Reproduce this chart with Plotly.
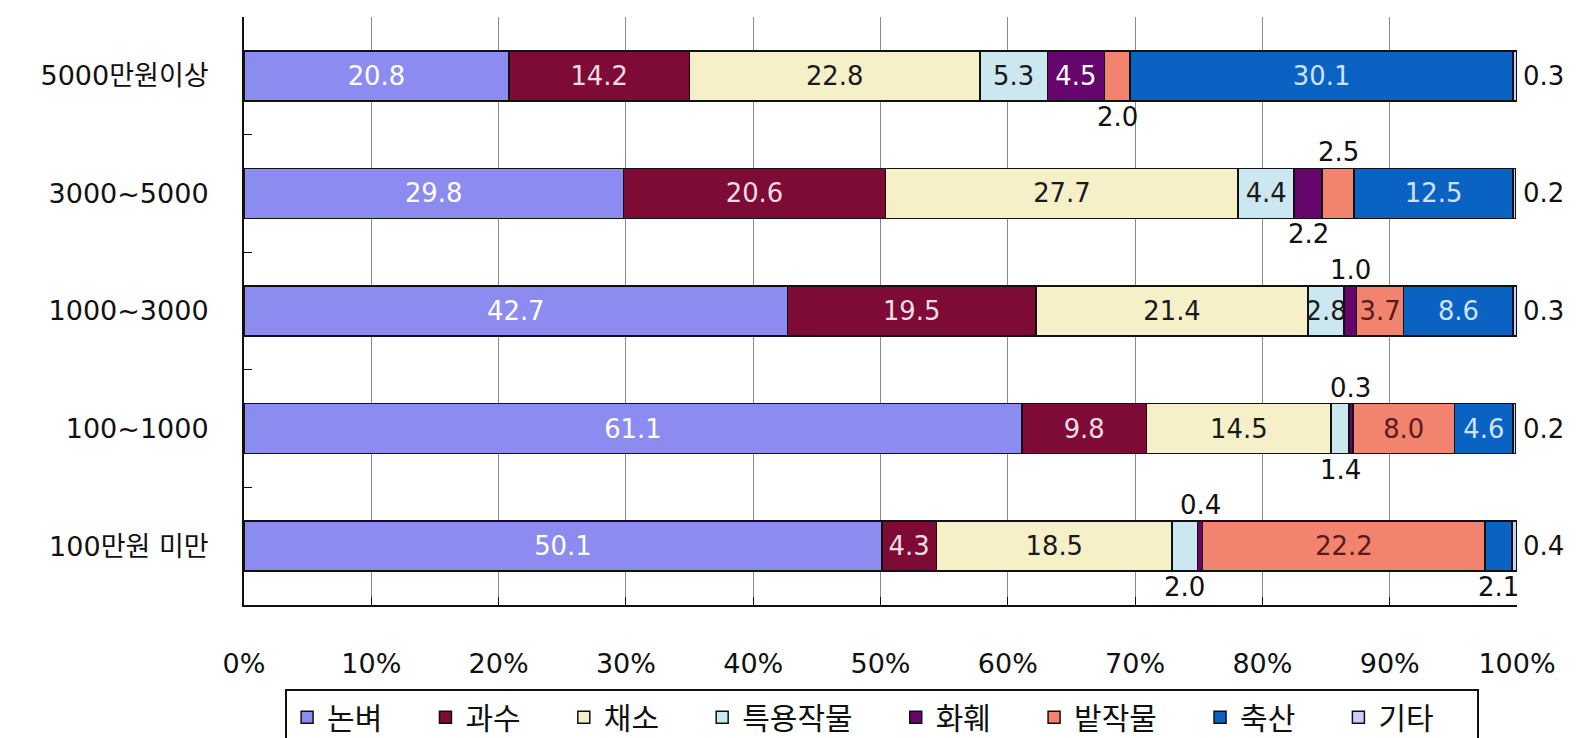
import plotly.graph_objects as go

categories = ["5000만원이상", "3000~5000", "1000~3000", "100~1000", "100만원 미만"]
series_names = ["논벼", "과수", "채소", "특용작물", "화훼", "밭작물", "축산", "기타"]

rice       = [20.8, 29.8, 42.7, 61.1, 50.1]
fruit      = [14.2, 20.6, 19.5, 9.8, 4.3]
vegetable  = [22.8, 27.7, 21.4, 14.5, 18.5]
special    = [5.3, 4.4, 2.8, 1.4, 2.0]
flower     = [4.5, 2.2, 1.0, 0.3, 0.4]
field      = [2.0, 2.5, 3.7, 8.0, 22.2]
livestock  = [30.1, 12.5, 8.6, 4.6, 2.1]
other      = [0.3, 0.2, 0.3, 0.2, 0.4]

values = [rice, fruit, vegetable, special, flower, field, livestock, other]

x_ticks = [0, 10, 20, 30, 40, 50, 60, 70, 80, 90, 100]
x_ticktext = ["0%", "10%", "20%", "30%", "40%", "50%", "60%", "70%", "80%", "90%", "100%"]

colors = ["#8C8CF0", "#7D0B36", "#F5F0C8", "#CBE8F0", "#66056B", "#F2836E", "#0A62C2", "#CCCCFF"]
text_colors = ["#FFFFFF", "#F4DCE4", "#1A1A1A", "#1A1A1A", "#FFFFFF", "#5A1A1A", "#CFE3FF", "#1A1A1A"]

# labels drawn outside the bar: (category index, series index, placement)
outside = [
    (0, 5, "below"), (0, 7, "right"),
    (1, 4, "below"), (1, 5, "above"), (1, 7, "right"),
    (2, 4, "above"), (2, 7, "right"),
    (3, 3, "below"), (3, 4, "above"), (3, 7, "right"),
    (4, 3, "below"), (4, 4, "above"), (4, 6, "below"), (4, 7, "right"),
]
outside_set = {(r, s) for r, s, _ in outside}

FONT = "DejaVu Sans, Noto Sans CJK KR, sans-serif"
LFONT = 26

fig = go.Figure()
for s, (name, vals) in enumerate(zip(series_names, values)):
    texts = ["" if (r, s) in outside_set else f"{v:.1f}" for r, v in enumerate(vals)]
    fig.add_trace(go.Bar(
        name=name + "\u00a0" * 4, y=categories, x=vals, orientation="h",
        marker=dict(color=colors[s], line=dict(color="#111111", width=1.5)),
        text=texts, textposition="inside", insidetextanchor="middle", textangle=0,
        textfont=dict(color=text_colors[s], size=LFONT, family=FONT),
        cliponaxis=False,
    ))

annotations = []
for r, s, pos in outside:
    v = values[s][r]
    start = sum(values[k][r] for k in range(s))
    if pos == "right":
        annotations.append(dict(x=100, y=categories[r], xref="x", yref="y", text=f"{v:.1f}",
                                showarrow=False, xanchor="left", xshift=4,
                                font=dict(size=LFONT, color="#111111", family=FONT)))
    else:
        annotations.append(dict(x=start + v / 2, y=categories[r], xref="x", yref="y", text=f"{v:.1f}",
                                showarrow=False, xanchor="center",
                                yshift=(41 if pos == "above" else -41),
                                font=dict(size=LFONT, color="#111111", family=FONT)))

fig.update_layout(
    barmode="stack", bargap=0.575,
    width=1578, height=738,
    margin=dict(l=244, r=61, t=17, b=133, autoexpand=False),
    paper_bgcolor="white", plot_bgcolor="white",
    font=dict(family=FONT, size=26, color="#111111"),
    uniformtext=dict(minsize=22, mode="show"),
    annotations=annotations,
    legend=dict(orientation="h", xref="container", yref="container",
                x=0.559, xanchor="center", y=0.066, yanchor="top",
                bgcolor="white", bordercolor="#111111", borderwidth=2,
                font=dict(size=30, family=FONT), traceorder="normal"),
    showlegend=True,
)
fig.update_xaxes(range=[0, 100], tickvals=x_ticks, ticktext=x_ticktext,
                 showgrid=True, gridcolor="#8A8A8A", gridwidth=1,
                 showline=True, linecolor="#111111", linewidth=2,
                 ticks="inside", ticklen=8, tickcolor="#111111", automargin=False,
                 ticklabelstandoff=34, tickfont=dict(size=27), zeroline=False)
fig.update_yaxes(autorange="reversed", showline=True, linecolor="#111111", linewidth=2,
                 ticks="inside", tickson="boundaries", ticklen=8, tickcolor="#111111",
                 automargin=False,
                 ticklabelstandoff=28, tickfont=dict(size=27), showgrid=False)

fig.write_html("out.html", config={"displayModeBar": False},
               post_script="document.body.style.margin='0px';document.body.style.overflow='hidden';")
